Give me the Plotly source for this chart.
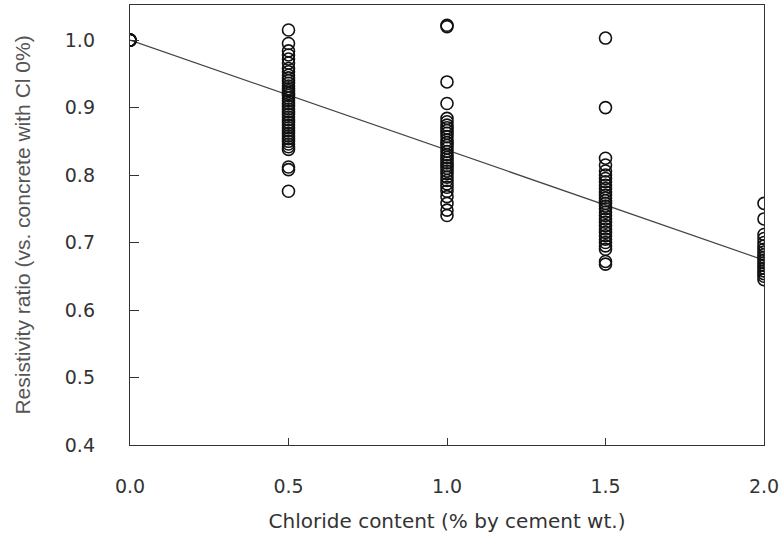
import plotly.graph_objects as go

# Chloride content (% by cement weight) for each test group
chloride_levels = [0.0, 0.5, 1.0, 1.5, 2.0]

# Resistivity ratio relative to the chloride-free reference concrete
ratio_cl00 = [1.0, 1.0, 1.0, 1.0, 1.0]
ratio_cl05 = [1.015, 0.995, 0.984, 0.978, 0.972, 0.966, 0.958, 0.953, 0.948, 0.944,
              0.94, 0.936, 0.932, 0.928, 0.925, 0.921, 0.918, 0.914, 0.91, 0.906,
              0.902, 0.898, 0.894, 0.89, 0.886, 0.882, 0.878, 0.874, 0.87, 0.866,
              0.862, 0.858, 0.854, 0.85, 0.846, 0.842, 0.838, 0.812, 0.808, 0.776]
ratio_cl10 = [1.022, 1.02, 0.938, 0.906, 0.884, 0.879, 0.874, 0.87, 0.866, 0.862,
              0.857, 0.852, 0.848, 0.844, 0.84, 0.835, 0.83, 0.826, 0.822, 0.818,
              0.814, 0.81, 0.806, 0.802, 0.797, 0.792, 0.787, 0.782, 0.776, 0.768,
              0.758, 0.748, 0.74]
ratio_cl15 = [1.003, 0.9, 0.825, 0.815, 0.806, 0.8, 0.795, 0.79, 0.785, 0.78,
              0.775, 0.77, 0.766, 0.762, 0.758, 0.754, 0.75, 0.745, 0.74, 0.735,
              0.73, 0.725, 0.72, 0.715, 0.71, 0.705, 0.7, 0.695, 0.69, 0.672, 0.668]
ratio_cl20 = [0.758, 0.735, 0.712, 0.706, 0.7, 0.695, 0.69, 0.686, 0.682, 0.678,
              0.674, 0.67, 0.666, 0.662, 0.658, 0.654, 0.65, 0.645]

# Linear trend: ratio = intercept + slope * chloride
fit_intercept = 1.0
fit_slope = -0.163

x_tick_vals = [0.0, 0.5, 1.0, 1.5, 2.0]
y_tick_vals = [0.4, 0.5, 0.6, 0.7, 0.8, 0.9, 1.0]

groups = [ratio_cl00, ratio_cl05, ratio_cl10, ratio_cl15, ratio_cl20]
xs, ys = [], []
for level, values in zip(chloride_levels, groups):
    xs.extend([level] * len(values))
    ys.extend(values)

fig = go.Figure()

fit_x = [chloride_levels[0], chloride_levels[-1]]
fit_y = [fit_intercept + fit_slope * v for v in fit_x]
fig.add_trace(go.Scatter(
    x=fit_x, y=fit_y, mode="lines",
    line=dict(color="#444444", width=1.2),
    hoverinfo="skip", showlegend=False,
))

fig.add_trace(go.Scatter(
    x=xs, y=ys, mode="markers",
    marker=dict(symbol="circle-open", size=12, color="#111111",
                line=dict(width=1.6, color="#111111")),
    showlegend=False,
))

tick_font = dict(family="DejaVu Sans, Verdana, sans-serif", size=19, color="#333333")

fig.update_layout(
    width=782, height=533,
    margin=dict(l=130, r=18, t=5, b=88),
    paper_bgcolor="white", plot_bgcolor="white",
    xaxis=dict(
        range=[0, 2.0], tickvals=x_tick_vals, tickformat=".1f",
        ticks="inside", ticklen=7, tickwidth=1, tickcolor="#333333",
        showline=True, linecolor="#333333", linewidth=1.4, mirror=True,
        showgrid=False, zeroline=False, automargin=False,
        tickfont=tick_font, ticklabelstandoff=24,
        title=dict(text="Chloride content (% by cement wt.)",
                   font=dict(family="DejaVu Sans, Verdana, sans-serif", size=20, color="#333333"),
                   standoff=20),
    ),
    yaxis=dict(
        range=[0.4, 1.052], tickvals=y_tick_vals, tickformat=".1f",
        ticks="inside", ticklen=9, tickwidth=1, tickcolor="#333333",
        showline=True, linecolor="#333333", linewidth=1.4, mirror=True,
        showgrid=False, zeroline=False, automargin=False,
        tickfont=tick_font, ticklabelstandoff=30,
        title=dict(text="Resistivity ratio (vs. concrete with Cl 0%)",
                   font=dict(family="Liberation Sans Narrow, Liberation Sans, Arial Narrow, sans-serif",
                             size=21, color="#555555"),
                   standoff=28),
    ),
)

fig.write_html("out.html")
